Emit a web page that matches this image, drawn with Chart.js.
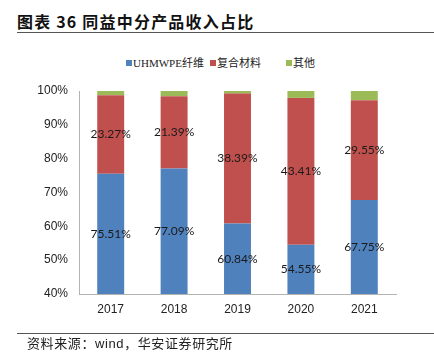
<!DOCTYPE html>
<html>
<head>
<meta charset="utf-8">
<script src="https://cdn.jsdelivr.net/npm/chart.js@4.4.0/dist/chart.umd.min.js"></script>
<style>
  html, body { margin: 0; padding: 0; background: #fff; }
  #wrap { position: relative; width: 434px; height: 355px; overflow: hidden; background: #fff; }
  #title { position: absolute; left: 17px; top: 9px; font: bold 16px "Noto Sans CJK SC", sans-serif; color: #111; letter-spacing: 1.2px; white-space: nowrap; }
  #tline { position: absolute; left: 17px; top: 32px; width: 417px; height: 1px; background: #555; }
  #fline { position: absolute; left: 17px; top: 333px; width: 417px; height: 1px; background: #555; }
  #footer { position: absolute; left: 27px; top: 333px; font: 13px "Noto Sans CJK SC", sans-serif; color: #222; letter-spacing: 0.6px; white-space: nowrap; }
  #footer .lat { font-family: "Liberation Sans", Arial, sans-serif; }
  #legend { position: absolute; left: 0; top: 55px; width: 434px; height: 16px; }
  .lg { position: absolute; top: 0; font: 11px "Liberation Serif", "Noto Sans CJK SC", serif; color: #222; white-space: nowrap; line-height: 16px; }
  .lg i { position: absolute; left: -7px; top: 5px; width: 6px; height: 6px; }
  canvas { position: absolute; left: 0; top: 0; }
</style>
</head>
<body>
<div id="wrap">
  <div id="title">图表 36 同益中分产品收入占比</div>
  <div id="tline"></div>
  <div id="legend"></div>
  <canvas id="c" width="434" height="355"></canvas>
  <div id="fline"></div>
  <div id="footer">资料来源：<span class="lat">wind</span>，华安证券研究所</div>
</div>
<script>
const categories = ["2017", "2018", "2019", "2020", "2021"];
const seriesNames = ["UHMWPE纤维", "复合材料", "其他"];
const uhmwpe = [75.51, 77.09, 60.84, 54.55, 67.75];
const composite = [23.27, 21.39, 38.39, 43.41, 29.55];
const other = [1.22, 1.52, 0.77, 2.04, 2.70];
const colors = ["#4F81BD", "#C0504D", "#9BBB59"];
const yTicks = [40, 50, 60, 70, 80, 90, 100];

// HTML legend
const legendX = [133, 217, 293];
const lg = document.getElementById('legend');
seriesNames.forEach((n, i) => {
  const d = document.createElement('div');
  d.className = 'lg';
  d.style.left = legendX[i] + 'px';
  d.innerHTML = '<i style="background:' + colors[i] + '"></i>' + n;
  lg.appendChild(d);
});

const labelPlugin = {
  id: 'segLabels',
  afterDatasetsDraw(chart) {
    const ctx = chart.ctx;
    const area = chart.chartArea;
    ctx.save();
    ctx.font = '12px Lato, "Open Sans", sans-serif';
    ctx.fillStyle = '#1a1a1a';
    ctx.textAlign = 'center';
    ctx.textBaseline = 'middle';
    [0, 1].forEach(di => {
      const meta = chart.getDatasetMeta(di);
      meta.data.forEach((el, i) => {
        const p = el.getProps(['x', 'y', 'base'], true);
        let top = Math.max(Math.min(p.y, p.base), area.top);
        let bot = Math.min(Math.max(p.y, p.base), area.bottom);
        const v = chart.data.datasets[di].data[i];
        ctx.fillText(v.toFixed(2) + '%', p.x, (top + bot) / 2);
      });
    });
    ctx.restore();
  }
};

new Chart(document.getElementById('c'), {
  type: 'bar',
  data: {
    labels: categories,
    datasets: [
      { label: seriesNames[0], data: uhmwpe, backgroundColor: colors[0] },
      { label: seriesNames[1], data: composite, backgroundColor: colors[1] },
      { label: seriesNames[2], data: other, backgroundColor: colors[2] }
    ]
  },
  options: {
    responsive: false,
    animation: false,
    devicePixelRatio: 1,
    layout: { padding: { left: 0, right: 38, top: 91, bottom: 31 } },
    plugins: { legend: { display: false }, tooltip: { enabled: false } },
    datasets: { bar: { categoryPercentage: 1, barPercentage: 0.425 } },
    scales: {
      x: {
        stacked: true,
        grid: { display: false, drawTicks: false },
        border: { display: true, color: '#b3b3b3', width: 1 },
        ticks: { font: { family: '"Liberation Sans", Arial, sans-serif', size: 12 }, color: '#222', padding: 8 },
        afterFit(s) { s.height = 30; }
      },
      y: {
        stacked: true,
        min: 40, max: 100,
        afterBuildTicks(s) { s.ticks = yTicks.map(v => ({ value: v })); },
        grid: { display: false, drawTicks: false },
        border: { display: true, color: '#b3b3b3', width: 1 },
        ticks: { font: { family: '"Liberation Sans", Arial, sans-serif', size: 12 }, color: '#222', padding: 11, callback: v => v + '%' },
        afterFit(s) { s.width = 79; }
      }
    }
  },
  plugins: [labelPlugin]
});
</script>
</body>
</html>
